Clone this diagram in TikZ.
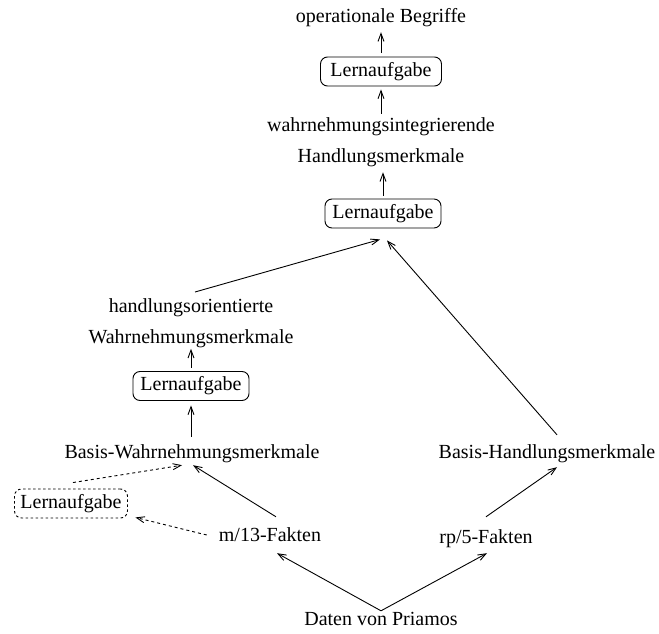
\documentclass[tikz,border=0pt]{standalone}
\usepackage{fontspec}
\setmainfont{Liberation Serif}
\usetikzlibrary{arrows.meta}

\begin{document}
\begin{tikzpicture}[
    x=1pt, y=-1pt,
    font=\fontsize{20}{31}\selectfont,
    lbl/.style={inner sep=0pt, text height=14pt, text depth=4.5pt, anchor=base},
    twoline/.style={inner sep=0pt, align=center, anchor=center},
    task/.style={draw, line width=0.9pt, rounded corners=7pt, inner sep=0pt,
                 minimum width=116pt, minimum height=29pt,
                 text height=14pt, text depth=4.5pt},
    opttask/.style={task, minimum width=113pt, dash pattern=on 2.5pt off 2.5pt},
    flow/.style={line width=0.9pt, -{Straight Barb[length=8pt,width=6pt]}},
    optflow/.style={flow, dash pattern=on 3pt off 3pt}
  ]
  \useasboundingbox (0,0) rectangle (659,634);

  % top column
  \node[lbl] (ops) at (381,23) {operationale Begriffe};
  \node[task, minimum width=121pt] (lt) at (381,71.5) {Lernaufgabe};
  \node[twoline] (wi) at (381,141.8) {wahrnehmungsintegrierende\\Handlungsmerkmale};
  \node[task] (lm) at (383,213.5) {Lernaufgabe};

  % left column
  \node[twoline] (ho) at (191,322.8) {handlungsorientierte\\Wahrnehmungsmerkmale};
  \node[task] (ll) at (191,386) {Lernaufgabe};
  \node[lbl] (bw) at (192,458) {Basis-Wahrnehmungsmerkmale};
  \node[opttask] (lo) at (71,503.5) {Lernaufgabe};
  \node[lbl] (m13) at (270,541) {m/13-Fakten};

  % right column
  \node[lbl] (bh) at (547,458) {Basis-Handlungsmerkmale};
  \node[lbl] (rp5) at (486,543) {rp/5-Fakten};

  % source
  \node[lbl] (daten) at (381,625) {Daten von Priamos};

  % connectors
  \draw[flow] (daten.north) -- ([xshift=7pt,yshift=-7.5pt]m13.south);
  \draw[flow] (daten.north) -- ([xshift=1pt,yshift=-5.5pt]rp5.south);
  \draw[flow] ([xshift=6pt,yshift=10pt]m13.north) -- ([xshift=1pt,yshift=-2.5pt]bw.south);
  \draw[optflow] ([xshift=-12pt,yshift=6pt]m13.base west) -- ([xshift=7.5pt,yshift=1pt]lo.south east);
  \draw[optflow] ([xshift=2pt,yshift=6pt]lo.north) -- ([xshift=-10pt,yshift=-2.5pt]bw.south);
  \draw[flow] ([yshift=12pt]rp5.north) -- ([xshift=10pt,yshift=-4.5pt]bh.south);
  \draw[flow] ([xshift=10pt,yshift=9pt]bh.north) -- ([xshift=4pt,yshift=-12pt]lm.south);
  \draw[flow] ([xshift=4pt,yshift=6pt]ho.north) -- ([xshift=-3pt,yshift=-11pt]lm.south);
  \draw[flow] ([xshift=-1pt,yshift=7pt]bw.north) -- ([yshift=-4.5pt]ll.south);
  \draw[flow] ([yshift=3.5pt]ll.north) -- ([yshift=-1.2pt]ho.south);
  \draw[flow] ([yshift=3pt]lm.north) -- ([xshift=2pt,yshift=-5.7pt]wi.south);
  \draw[flow] ([yshift=3.3pt]wi.north) -- ([yshift=-3pt]lt.south);
  \draw[flow] ([yshift=4pt]lt.north) -- ([yshift=-4.5pt]ops.south);
\end{tikzpicture}
\end{document}
